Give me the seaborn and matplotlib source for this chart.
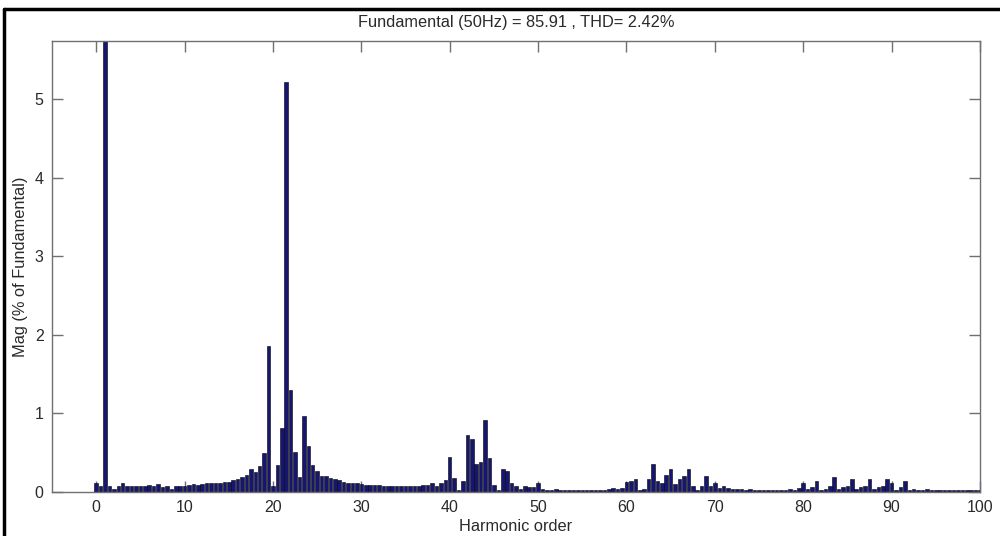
import numpy as np
import matplotlib
matplotlib.use("Agg")
import matplotlib.pyplot as plt
import seaborn as sns

# Harmonic spectrum data (0.5 order resolution, 0 .. 100)
orders = np.arange(0, 100.5, 0.5)
mag = [
    0.11, 0.08, 100.0, 0.07, 0.04, 0.07, 0.12, 0.07, 0.08, 0.07,   # 0 - 4.5
    0.08, 0.07, 0.09, 0.08, 0.10, 0.06, 0.08, 0.04, 0.07, 0.08,    # 5 - 9.5
    0.08, 0.09, 0.10, 0.09, 0.10, 0.11, 0.11, 0.11, 0.12, 0.13,    # 10 - 14.5
    0.13, 0.15, 0.16, 0.19, 0.22, 0.29, 0.25, 0.33, 0.49, 1.86,    # 15 - 19.5
    0.07, 0.34, 0.82, 5.22, 1.30, 0.51, 0.19, 0.97, 0.58, 0.34,    # 20 - 24.5
    0.27, 0.20, 0.20, 0.18, 0.16, 0.15, 0.13, 0.12, 0.11, 0.11,    # 25 - 29.5
    0.10, 0.09, 0.09, 0.09, 0.085, 0.08, 0.08, 0.08, 0.08, 0.08,   # 30 - 34.5
    0.08, 0.08, 0.08, 0.08, 0.09, 0.09, 0.12, 0.08, 0.12, 0.15,    # 35 - 39.5
    0.45, 0.18, 0.02, 0.14, 0.73, 0.68, 0.35, 0.38, 0.92, 0.43,    # 40 - 44.5
    0.09, 0.02, 0.29, 0.27, 0.11, 0.07, 0.04, 0.07, 0.06, 0.06,    # 45 - 49.5
    0.12, 0.04, 0.03, 0.03, 0.04, 0.03, 0.03, 0.03, 0.03, 0.03,    # 50 - 54.5
    0.03, 0.03, 0.03, 0.03, 0.03, 0.03, 0.04, 0.05, 0.04, 0.05,    # 55 - 59.5
    0.13, 0.14, 0.17, 0.02, 0.04, 0.17, 0.35, 0.14, 0.11, 0.22,    # 60 - 64.5
    0.29, 0.10, 0.17, 0.20, 0.29, 0.08, 0.02, 0.07, 0.20, 0.07,    # 65 - 69.5
    0.12, 0.05, 0.07, 0.05, 0.04, 0.04, 0.04, 0.03, 0.04, 0.03,    # 70 - 74.5
    0.03, 0.03, 0.03, 0.03, 0.03, 0.03, 0.03, 0.04, 0.03, 0.05,    # 75 - 79.5
    0.12, 0.04, 0.06, 0.14, 0.02, 0.04, 0.07, 0.19, 0.04, 0.06,    # 80 - 84.5
    0.07, 0.17, 0.04, 0.06, 0.07, 0.17, 0.04, 0.06, 0.08, 0.17,    # 85 - 89.5
    0.12, 0.02, 0.06, 0.14, 0.02, 0.04, 0.03, 0.03, 0.04, 0.03,    # 90 - 94.5
    0.03, 0.02, 0.03, 0.03, 0.03, 0.02, 0.02, 0.02, 0.02, 0.02,    # 95 - 99.5
    0.02,                                                          # 100
]

x_ticks = [0, 10, 20, 30, 40, 50, 60, 70, 80, 90, 100]
y_ticks = [0, 1, 2, 3, 4, 5]

sns.set_style("white")
plt.rcParams["font.family"] = ["Liberation Sans", "DejaVu Sans"]

fig = plt.figure(figsize=(10, 5.36), dpi=100)
ax = fig.add_axes([0.052, 0.0821, 0.928, 0.8414])

sns.barplot(x=orders, y=mag, native_scale=True, width=0.8, color="#161672",
            saturation=1, edgecolor="black", linewidth=0.4, errorbar=None, ax=ax)

ax.set_xlim(-5, 100)
ax.set_ylim(0, 5.74)
ax.set_xticks(x_ticks)
ax.set_yticks(y_ticks)
ax.set_xticklabels([str(t) for t in x_ticks])
ax.set_yticklabels([str(t) for t in y_ticks])

ax.tick_params(direction="in", length=8, width=1, colors="#707070",
               labelcolor="#2a2a2a", labelsize=11.5, top=True, right=True,
               bottom=True, left=True, pad=6)
for s in ax.spines.values():
    s.set_visible(True)
    s.set_color("#707070")
    s.set_linewidth(1)

ax.set_title("Fundamental (50Hz) = 85.91 , THD= 2.42%", fontsize=11.8,
             color="#2a2a2a", pad=10)
ax.set_xlabel("Harmonic order", fontsize=11.8, color="#2a2a2a", labelpad=3)
ax.set_ylabel("Mag (% of Fundamental)", fontsize=11.8, color="#2a2a2a", labelpad=5)

# outer frame of the original screenshot
fig.add_artist(plt.Line2D([0.004, 0.004], [0, 0.983], color="black", lw=2.5))
fig.add_artist(plt.Line2D([0.004, 1.0], [0.983, 0.983], color="black", lw=2.5))

fig.savefig("out.png", dpi=100, facecolor="white")
plt.close()
